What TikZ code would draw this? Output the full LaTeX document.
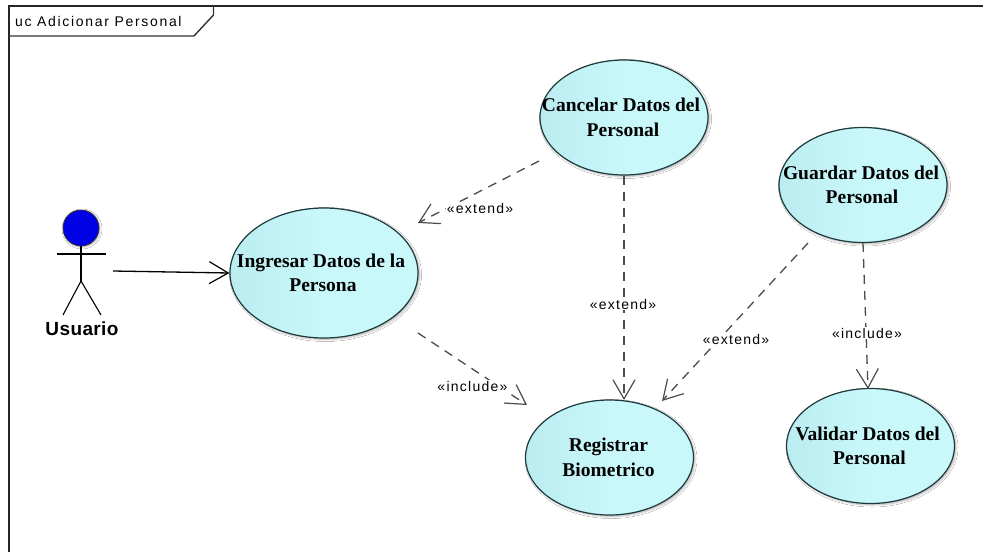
\documentclass[tikz,border=0pt]{standalone}
\usepackage{fontspec}
\setmainfont{Liberation Serif}
\setsansfont{Liberation Sans}
\newfontfamily\lblfont[LetterSpace=9]{Liberation Sans}
\newfontfamily\ttlfont[LetterSpace=12]{Liberation Sans}
\newfontfamily\actfont[LetterSpace=2]{Liberation Sans}
\newcommand{\lsh}[1]{\hspace*{#1pt}}
\usetikzlibrary{shapes.geometric,shadows.blur,arrows.meta}
\definecolor{ucfill}{HTML}{C8F8FA}
\definecolor{ucleft}{HTML}{BBECF0}
\definecolor{ucedge}{HTML}{1E3A3C}
\tikzset{
  usecase/.style={ellipse,draw=ucedge,line width=1.2pt,left color=ucleft,right color=ucfill,middle color=ucfill,
    inner ysep=0pt,inner xsep=-32pt,minimum width=168pt,minimum height=115pt,align=center,
    font=\rmfamily\bfseries\fontsize{19.5}{24.5}\selectfont,
    blur shadow={shadow xshift=1.5pt,shadow yshift=-1.5pt,shadow blur steps=5,shadow blur radius=2pt,shadow opacity=30}},
  dep/.style={draw=black!70,line width=1.3pt,dash pattern=on 9pt off 7pt,-{Straight Barb[length=19pt,width=22pt,line width=1.2pt]}},
  assoc/.style={draw=black,line width=1.3pt,-{Straight Barb[length=19pt,width=22pt,line width=1.2pt]}},
  deplabel/.style={font=\lblfont\fontsize{14}{15}\selectfont,fill=white,inner sep=1pt},
  framel/.style={draw=black!85,line width=2pt},
  actorl/.style={draw=black,line width=1.1pt}
}
\begin{document}
\begin{tikzpicture}[x=1pt,y=-1pt]
\useasboundingbox (0,0) rectangle (983,552);
\fill[white] (0,0) rectangle (983,552);
\draw[framel] (8.5,552) -- (8.5,5.5) -- (983,5.5);
\draw[draw=black!80,line width=1.4pt] (8.5,36) -- (194,36) -- (213.5,15) -- (213.5,5.5);
\node[anchor=west,font=\ttlfont\fontsize{14}{15}\selectfont,inner sep=0pt] (title) at (15,21) {uc Adicionar Personal};
% actor
\node[circle,draw=black!80,fill=blue!90!black,minimum size=36pt,inner sep=0pt,line width=0.8pt,
  blur shadow={shadow xshift=1pt,shadow yshift=-1pt,shadow blur steps=4,shadow blur radius=2pt,shadow opacity=30}] (head) at (81,228) {};
\coordinate (hip) at (81,281);
\draw[actorl] (head.south) -- (hip);
\draw[actorl] (57,254) -- (106,254);
\draw[actorl] (63,315) -- (hip) -- (101,315);
\node[font=\actfont\bfseries\fontsize{19}{21}\selectfont,inner sep=0pt] (usuario) at (82,329) {Usuario};
\coordinate (actorout) at (113,271);
% use cases
\node[usecase,minimum width=188pt,minimum height=130pt] (ingresar) at (324,273) {Ingresar Datos de la\lsh{6}\\Persona\lsh{2}};
\node[usecase] (cancelar) at (624,117.5) {Cancelar Datos del\lsh{6}\\Personal\lsh{2}};
\node[usecase] (guardar) at (863,185) {Guardar Datos del\lsh{4}\\Personal\lsh{2}};
\node[usecase] (registrar) at (609.5,457.5) {Registrar\lsh{2}\\Biometrico\lsh{2}};
\node[usecase] (validar) at (870.5,446) {Validar Datos del\lsh{6}\\Personal\lsh{2}};
% free ends
\coordinate (c1) at (539,161);
\coordinate (t1) at (418,223);
\coordinate (c2) at (624,175.5);
\coordinate (t2) at (624,400);
\coordinate (g1) at (808,243);
\coordinate (t3) at (662,401);
\coordinate (g2) at (863,243);
\coordinate (t4) at (868,389);
\coordinate (i1) at (418,333);
\coordinate (t5) at (527,405);
\draw[assoc] (actorout) -- (ingresar.west);
\draw[dep] (c1) -- (t1);
\draw[dep] (c2) -- (t2);
\draw[dep] (g1) -- (t3);
\draw[dep] (g2) -- (t4);
\draw[dep] (i1) -- (t5);
\node[deplabel] (l1) at (480,208) {«extend»};
\node[deplabel] (l2) at (623,304) {«extend»};
\node[deplabel] (l3) at (736,339) {«extend»};
\node[deplabel] (l4) at (867,333) {«include»};
\node[deplabel] (l5) at (472.5,386) {«include»};
\end{tikzpicture}
\end{document}
